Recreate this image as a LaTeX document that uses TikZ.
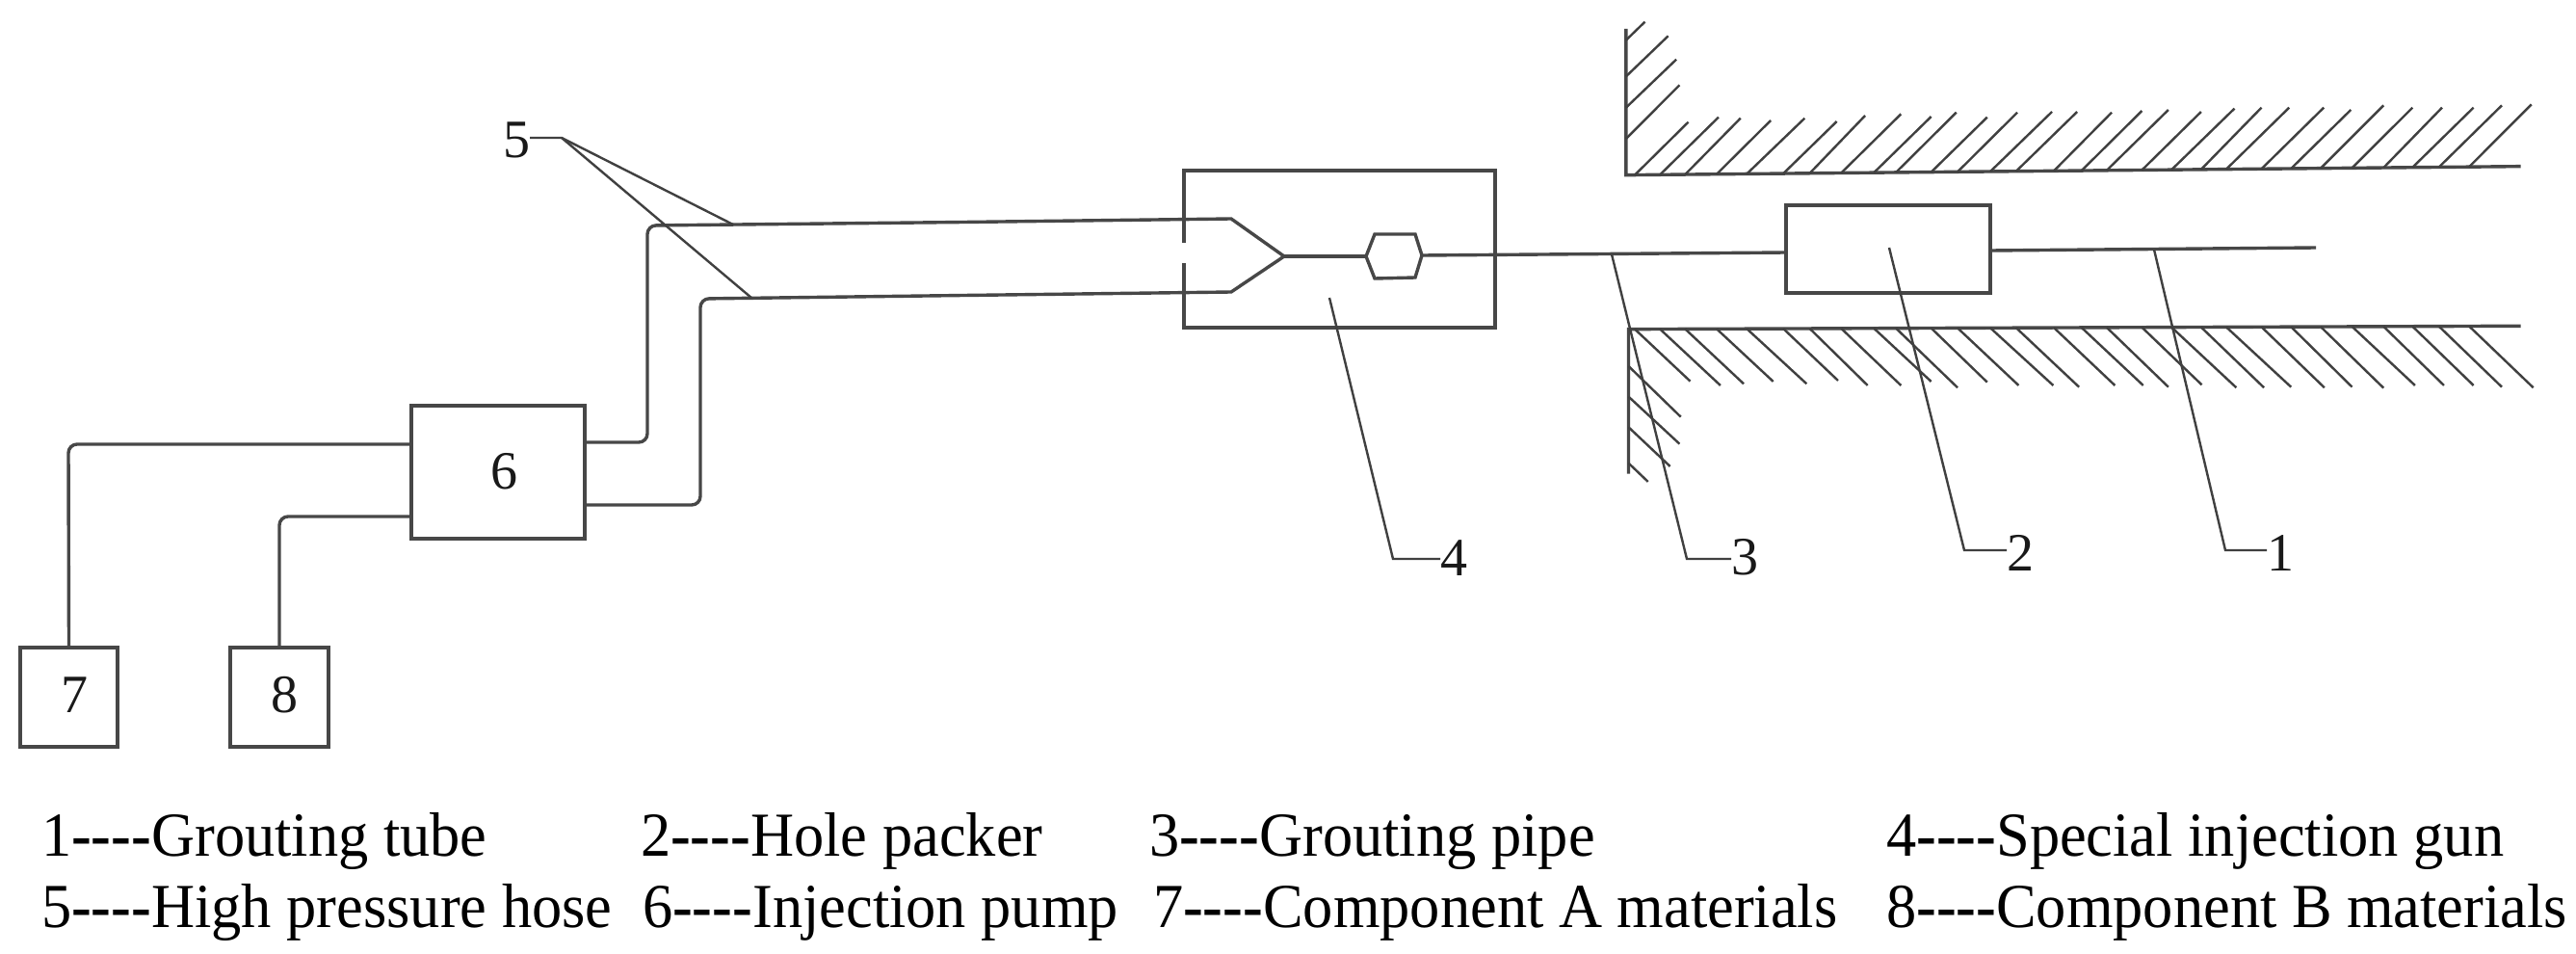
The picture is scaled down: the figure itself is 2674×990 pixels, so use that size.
\documentclass[tikz,border=0pt]{standalone}
\usepackage{fontspec}
\setmainfont{Liberation Serif}
\newcommand{\legendtext}[2]{\scalebox{.96}[1]{#1\textbf{-{}-{}-{}-}#2}}
\begin{document}
\begin{tikzpicture}[x=1pt,y=-1pt,
  line/.style={draw=black!72,line width=3.4pt,line cap=butt,line join=miter},
  thin line/.style={draw=black!75,line width=2.4pt},
  hatch/.style={draw=black!75,line width=2.4pt},
  hose/.style={line,rounded corners=9pt},
  boxnode/.style={draw=black!72,line width=3.4pt,rectangle,inner sep=0pt,outer sep=0pt},
  plainbox/.style={rectangle,inner sep=0pt,outer sep=0pt},
  digit/.style={inner sep=0pt,outer sep=0pt,font=\fontsize{56}{56}\selectfont,text=black!90},
  legend/.style={anchor=base west,inner sep=0pt,outer sep=0pt,font=\fontsize{65}{65}\selectfont,text=black}]
\useasboundingbox (0,0) rectangle (2674,990);
\fill[white] (0,0) rectangle (2674,990);

% boxes
\node[boxnode,minimum width=180pt,minimum height=138pt] (box6) at (517,490) {};
\node[boxnode,minimum width=101pt,minimum height=103pt] (box7) at (71.5,723.5) {};
\node[boxnode,minimum width=102pt,minimum height=103pt] (box8) at (290,723.5) {};
\node[boxnode,minimum width=212pt,minimum height=91pt] (box2) at (1960,258.5) {};
\node[plainbox,minimum width=323pt,minimum height=163pt] (box4) at (1390.5,258.5) {};

% digit labels in boxes
\node[digit] (lab6) at (523,489) {6};
\node[digit] (lab7) at (77,721) {7};
\node[digit] (lab8) at (295,721) {8};

% injection gun housing (left side has a gap)
\draw[line] (box4.west |- 0,252) -- (box4.north west) -- (box4.north east) -- (box4.south east) -- (box4.south west) -- (box4.west |- 0,273);

% hoses from pump to gun
\coordinate (tip) at (1333,266);
\draw[hose] (box6.east |- 0,459) -- (672,459) -- (672,234) -- (1000,230.5);
\draw[line] (1000,230.5) -- (1278,227) -- (tip) -- (1278,303) -- (1000,306.5);
\draw[hose] (1000,306.5) -- (727,310) -- (727,524) -- (box6.east |- 0,524);

% feed lines
\draw[hose] (box6.west |- 0,461) -- (71,461) -- (box7.north);
\draw[hose] (box6.west |- 0,536) -- (290,536) -- (box8.north);

% hexagon and pipes
\coordinate (hexL) at (1418,266);
\coordinate (hexR) at (1476,265);
\draw[line] (tip) -- (hexL);
\draw[line] (hexL) -- (1427,243) -- (1469,243) -- (hexR) -- (1469,288) -- (1427,289) -- cycle;
\draw[line] (hexR) -- (box2.west |- 0,262);
\coordinate (tubeEnd) at (2404,257);
\draw[line] (box2.east |- 0,260) -- (tubeEnd);

% upper wall
\begin{scope}[shift={(1650,0)},xscale=0.6531,yscale=0.3333]
\draw[line] (58,90) -- (58,545) -- (1480,518);
\foreach \a/\b/\c in {72/157/380,112/205/365,152/240/368,202/288/375,250/342/368,308/393/378,350/438/360,400/495/355,452/543/363,487/583/350,543/632/365,585/680/350,637/735/348,678/775/348,738/830/350,782/878/345,822/920/342,878/972/348,925/1025/338,972/1068/335,1012/1112/335,1068/1167/335,1115/1210/342,1162/1262/328,1212/1308/335,1262/1355/335,1308/1405/335,1350/1450/328,1398/1497/325}
  \draw[hatch] ({\a},{545-0.019*(\a-58)}) -- (\b,\c);
\draw[hatch] (58,125) -- (88,68);
\draw[hatch] (58,238) -- (125,112);
\draw[hatch] (58,335) -- (138,185);
\draw[hatch] (58,432) -- (143,265);
% lower wall
\draw[line] (62,1475) -- (62,1025) -- (1480,1015);
\foreach \a/\b/\c in {72/160/1187,112/208/1200,152/245/1195,202/292/1188,250/345/1195,308/395/1185,350/442/1200,400/495/1200,452/543/1188,487/585/1207,543/632/1190,585/682/1200,637/737/1200,678/778/1205,738/835/1200,782/880/1200,822/920/1205,878/973/1198,925/1028/1207,972/1072/1207,1012/1115/1205,1068/1168/1207,1115/1212/1205,1162/1262/1208,1212/1312/1200,1262/1358/1200,1308/1405/1200,1350/1450/1205,1398/1500/1207}
  \draw[hatch] ({\a},{1025-0.00705*(\a-62)}) -- (\b,\c);
\draw[hatch] (62,1140) -- (145,1298);
\draw[hatch] (62,1235) -- (143,1382);
\draw[hatch] (62,1330) -- (128,1452);
\draw[hatch] (62,1442) -- (93,1500);
\end{scope}

% leader labels
\node[digit] (lab1) at (2367,574) {1};
\node[digit] (lab2) at (2097,574) {2};
\node[digit] (lab3) at (1811,578) {3};
\node[digit] (lab4) at (1509,579) {4};
\node[digit] (lab5) at (536,145) {5};

% leaders
\coordinate (t1) at (2236,259);
\coordinate (t2) at (1961,257);
\coordinate (t3) at (1673,264);
\coordinate (t4) at (1380,309);
\coordinate (t5a) at (761,233);
\coordinate (t5b) at (780,309);
\coordinate (k5) at (583,143);
\draw[thin line] (t1) -- (2310,571) -- (lab1.west |- 0,571);
\draw[thin line] (t2) -- (2039,571) -- (lab2.west |- 0,571);
\draw[thin line] (t3) -- (1751,580) -- (lab3.west |- 0,580);
\draw[thin line] (t4) -- (1446,580) -- (lab4.west |- 0,580);
\draw[thin line] (lab5.east |- k5) -- (k5) -- (t5a);
\draw[thin line] (k5) -- (t5b);

% legend
\node[legend] (l1) at (43,888) {\legendtext{1}{Grouting tube}};
\node[legend] (l2) at (665,888) {\legendtext{2}{Hole packer}};
\node[legend] (l3) at (1193,888) {\legendtext{3}{Grouting pipe}};
\node[legend] (l4) at (1958,888) {\legendtext{4}{Special injection gun}};
\node[legend] (l5) at (43,962) {\legendtext{5}{High pressure hose}};
\node[legend] (l6) at (667,962) {\legendtext{6}{Injection pump}};
\node[legend] (l7) at (1197,962) {\legendtext{7}{Component A materials}};
\node[legend] (l8) at (1958,962) {\legendtext{8}{Component B materials}};
\end{tikzpicture}
\end{document}
